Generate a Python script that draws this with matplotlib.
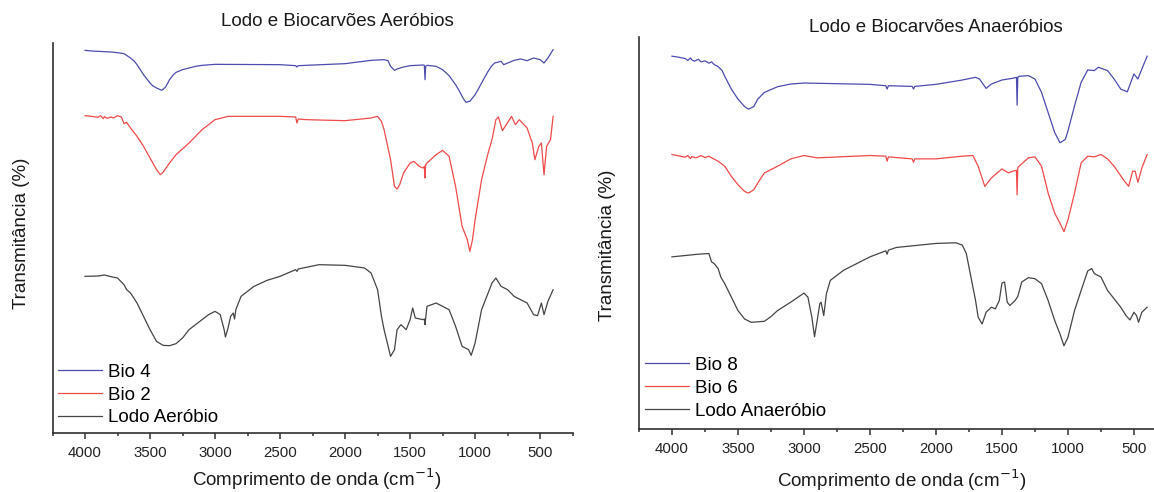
import matplotlib
matplotlib.use("Agg")
import matplotlib.pyplot as plt
from matplotlib.ticker import MultipleLocator

plt.rcParams['font.family'] = ['Liberation Sans', 'DejaVu Sans']

# FTIR spectra, transmittance in arbitrary units (curves stacked by offset)

# --- Aerobic sludge and biochars ---
bio4_wn = [4000, 3950, 3900, 3850, 3800, 3750, 3700, 3650, 3620, 3600, 3550, 3500, 3480, 3450,
           3410, 3380, 3350, 3320, 3300, 3250, 3200, 3150, 3100, 3000, 2500, 2380, 2370, 2360,
           2000, 1800, 1700, 1670, 1650, 1620, 1600, 1550, 1500, 1400, 1390, 1385, 1380, 1370,
           1300, 1250, 1200, 1150, 1120, 1100, 1085, 1070, 1055, 1040, 1020, 1000, 975, 950,
           925, 900, 875, 850, 800, 780, 700, 650, 600, 550, 500, 470, 440, 400]
bio4_t = [1148, 1146, 1145, 1144, 1143, 1141, 1138, 1125, 1115, 1105, 1075, 1050, 1042, 1035,
          1028, 1038, 1060, 1075, 1082, 1090, 1095, 1100, 1103, 1106, 1105, 1102, 1098, 1102,
          1108, 1118, 1120, 1117, 1100, 1088, 1092, 1098, 1102, 1104, 1103, 1060, 1100, 1103,
          1100, 1090, 1072, 1045, 1025, 1010, 1000, 992, 994, 995, 1005, 1015, 1032, 1050,
          1068, 1085, 1100, 1110, 1115, 1105, 1118, 1122, 1117, 1125, 1120, 1110, 1125, 1150]

bio2_wn = [4000, 3950, 3900, 3880, 3860, 3850, 3830, 3800, 3780, 3750, 3720, 3700, 3680, 3650,
           3600, 3550, 3500, 3450, 3420, 3400, 3350, 3300, 3200, 3100, 3000, 2900, 2500, 2380,
           2370, 2360, 2300, 2000, 1800, 1750, 1720, 1700, 1650, 1620, 1600, 1580, 1550, 1500,
           1470, 1430, 1400, 1390, 1385, 1380, 1370, 1300, 1250, 1200, 1150, 1100, 1060, 1040,
           1020, 1000, 950, 900, 870, 840, 820, 790, 760, 720, 690, 660, 600, 560, 540, 510,
           490, 470, 450, 420, 400]
bio2_t = [952, 950, 947, 952, 943, 949, 944, 948, 945, 952, 948, 928, 932, 915,
          890, 860, 825, 790, 775, 782, 810, 835, 870, 910, 940, 950, 950, 948,
          930, 942, 940, 937, 945, 950, 935, 910, 820, 740, 732, 745, 780, 810,
          815, 800, 795, 800, 765, 805, 810, 835, 848, 830, 740, 620, 580, 545,
          580, 640, 760, 840, 880, 940, 948, 907, 925, 950, 925, 940, 915, 870, 820, 860,
          870, 775, 860, 880, 950]

lodo_aer_wn = [4000, 3900, 3850, 3800, 3750, 3700, 3680, 3650, 3600, 3550, 3500, 3450, 3400,
               3350, 3300, 3250, 3200, 3100, 3050, 3000, 2960, 2930, 2920, 2900, 2880, 2860,
               2850, 2840, 2800, 2700, 2600, 2500, 2380, 2370, 2360, 2200, 2000, 1850, 1800,
               1750, 1720, 1700, 1650, 1620, 1600, 1570, 1530, 1500, 1480, 1460, 1400, 1390,
               1385, 1380, 1370, 1300, 1250, 1200, 1150, 1100, 1050, 1030, 1000, 950, 900,
               870, 840, 800, 750, 700, 600, 550, 520, 490, 470, 440, 400]
lodo_aer_t = [470, 471, 474, 469, 465, 445, 430, 420, 390, 350, 310, 275, 263,
              262, 268, 285, 310, 340, 355, 365, 355, 310, 288, 315, 350, 360,
              342, 370, 410, 440, 458, 470, 490, 485, 492, 505, 503, 495, 480,
              430, 350, 310, 230, 250, 310, 325, 310, 340, 375, 345, 340, 342,
              325, 345, 380, 390, 380, 370, 320, 260, 250, 233, 270, 370, 420,
              450, 465, 440, 430, 410, 390, 355, 352, 390, 355, 395, 430]

# --- Anaerobic sludge and biochars ---
bio8_wn = [4000, 3950, 3900, 3880, 3860, 3850, 3830, 3800, 3780, 3750, 3720, 3700, 3680, 3650,
           3620, 3600, 3550, 3500, 3450, 3420, 3380, 3350, 3300, 3200, 3100, 3000, 2500, 2380,
           2370, 2360, 2180, 2170, 2160, 2000, 1800, 1700, 1670, 1620, 1580, 1500, 1420, 1390,
           1385, 1380, 1370, 1300, 1250, 1200, 1150, 1100, 1060, 1020, 1000, 950, 900, 850,
           800, 770, 700, 650, 600, 550, 500, 470, 450, 400]
bio8_t = [1111, 1108, 1104, 1098, 1106, 1100, 1096, 1102, 1094, 1097, 1090, 1094, 1086, 1080,
          1068, 1051, 1013, 983, 961, 953, 961, 983, 1003, 1020, 1028, 1031, 1027, 1023,
          1013, 1023, 1021, 1013, 1021, 1027, 1040, 1048, 1043, 1015, 1028, 1040, 1045, 1048,
          965, 1048, 1051, 1053, 1043, 1003, 943, 883, 853, 863, 888, 963, 1033, 1070,
          1068, 1078, 1068, 1043, 1013, 1005, 1058, 1043, 1063, 1111]

bio6_wn = [4000, 3950, 3900, 3880, 3860, 3850, 3820, 3800, 3780, 3750, 3720, 3700, 3680, 3650,
           3600, 3550, 3500, 3450, 3420, 3380, 3350, 3300, 3200, 3100, 3000, 2900, 2500, 2380,
           2370, 2360, 2180, 2170, 2160, 2000, 1800, 1720, 1680, 1630, 1580, 1500, 1450, 1420,
           1390, 1385, 1380, 1370, 1300, 1250, 1200, 1150, 1100, 1060, 1030, 1000, 950, 900,
           850, 800, 750, 700, 650, 580, 540, 510, 490, 470, 440, 400]
bio6_t = [818, 814, 810, 815, 806, 812, 808, 811, 815, 809, 813, 808, 804, 798,
          783, 753, 728, 708, 703, 713, 733, 763, 783, 805, 815, 808, 815, 813,
          798, 811, 805, 795, 805, 805, 813, 815, 783, 723, 748, 775, 763, 768,
          771, 698, 778, 783, 808, 811, 783, 703, 643, 613, 588, 623, 703, 793,
          813, 811, 818, 805, 783, 743, 723, 768, 768, 735, 778, 818]

lodo_ana_wn = [4000, 3800, 3720, 3700, 3680, 3650, 3630, 3600, 3550, 3500, 3450, 3400, 3300,
               3250, 3200, 3100, 3000, 2970, 2940, 2920, 2900, 2880, 2870, 2850, 2830, 2800,
               2700, 2500, 2380, 2370, 2360, 2300, 2000, 1850, 1800, 1770, 1730, 1700, 1680,
               1650, 1620, 1580, 1550, 1520, 1500, 1480, 1460, 1440, 1400, 1380, 1350, 1300,
               1250, 1200, 1150, 1100, 1060, 1030, 1000, 950, 900, 850, 820, 800, 750, 700,
               600, 560, 530, 500, 480, 465, 440, 400]
lodo_ana_t = [513, 521, 523, 498, 493, 478, 453, 433, 393, 353, 328, 318, 321,
              335, 353, 378, 405, 393, 333, 275, 323, 373, 378, 338, 403, 443,
              473, 513, 531, 521, 533, 541, 553, 555, 548, 523, 443, 383, 333,
              313, 348, 363, 358, 383, 435, 438, 378, 368, 383, 395, 438, 451,
              448, 433, 383, 323, 283, 248, 273, 353, 413, 471, 478, 463, 453, 413,
              363, 338, 325, 348, 338, 318, 348, 363]

BLUE = '#4c4cb0'
RED = '#f04a4a'
GRAY = '#454545'
AXC = '#303030'

fig = plt.figure(figsize=(11.54, 4.92), dpi=100)
ax1 = fig.add_axes([0.0455, 0.1199, 0.4507, 0.7927])
ax2 = fig.add_axes([0.5537, 0.1280, 0.4575, 0.7967])


def estilo(ax, ytop):
    ax.set_xlim(4250, 250)
    ax.set_ylim(0, ytop)
    for s in ['top', 'right']:
        ax.spines[s].set_visible(False)
    for s in ['left', 'bottom']:
        ax.spines[s].set_color(AXC)
        ax.spines[s].set_linewidth(1.2)
    ax.set_yticks([])
    ax.xaxis.set_major_locator(MultipleLocator(500))
    ax.xaxis.set_minor_locator(MultipleLocator(250))
    ax.tick_params(axis='x', which='major', length=4, width=1.1, color=AXC,
                   labelsize=10.8, pad=5, labelcolor='#222222')
    ax.tick_params(axis='x', which='minor', length=2.5, width=1.1, color=AXC)
    ax.set_xticks([4000, 3500, 3000, 2500, 2000, 1500, 1000, 500])


estilo(ax1, 1170)
estilo(ax2, 1168)

lw = 0.9
ax1.plot(bio4_wn, bio4_t, color=BLUE, lw=lw, label='Bio 4')
ax1.plot(bio2_wn, bio2_t, color=RED, lw=lw, label='Bio 2')
ax1.plot(lodo_aer_wn, lodo_aer_t, color=GRAY, lw=lw, label='Lodo Aeróbio')

ax2.plot(bio8_wn, bio8_t, color=BLUE, lw=lw, label='Bio 8')
ax2.plot(bio6_wn, bio6_t, color=RED, lw=lw, label='Bio 6')
ax2.plot(lodo_ana_wn, lodo_ana_t, color=GRAY, lw=lw, label='Lodo Anaeróbio')

W, H = 1154, 492
leg_kw = dict(frameon=False, fontsize=13.5, handlelength=2.35, handletextpad=0.3,
              labelspacing=0.31, borderpad=0, borderaxespad=0, loc='center left')
ax1.legend(bbox_to_anchor=(58 / W, 1 - 395 / H), bbox_transform=fig.transFigure, **leg_kw)
ax2.legend(bbox_to_anchor=(645 / W, 1 - 388 / H), bbox_transform=fig.transFigure, **leg_kw)

txt = dict(fontsize=13.5, color='#1a1a1a', ha='center', va='center')
fig.text(337 / W, 1 - 22 / H, 'Lodo e Biocarvões Aeróbios', **txt)
fig.text(936 / W, 1 - 28 / H, 'Lodo e Biocarvões Anaeróbios', **txt)
fig.text(317 / W, 1 - 479 / H, 'Comprimento de onda (cm$^{-1}$)', **txt)
fig.text(902 / W, 1 - 480 / H, 'Comprimento de onda (cm$^{-1}$)', **txt)
fig.text(22 / W, 1 - 233 / H, 'Transmitância (%)', rotation=90, **txt)
fig.text(607 / W, 1 - 245 / H, 'Transmitância (%)', rotation=90, **txt)

fig.savefig('out.png', dpi=100)
